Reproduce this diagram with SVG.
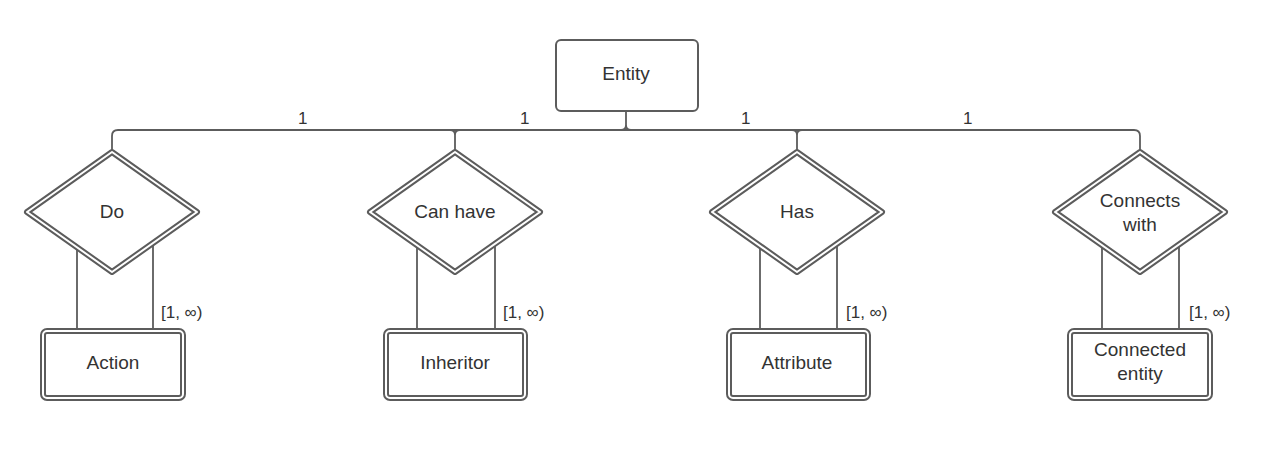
<svg xmlns="http://www.w3.org/2000/svg" width="1280" height="454" viewBox="0 0 1280 454">
<style>
.bg{fill:#ffffff}
.ln{fill:none;stroke:#5c5c5c;stroke-width:1.8}
.single{fill:#ffffff;stroke:#5c5c5c;stroke-width:2}
.dbl-o{fill:#ffffff;stroke:#5c5c5c;stroke-width:6;stroke-linejoin:round}
.dbl-i{fill:none;stroke:#ffffff;stroke-width:2;stroke-linejoin:round}
.t{font-family:"Liberation Sans",Arial,sans-serif;font-size:19px;fill:#333333;text-anchor:middle}
.c{font-family:"Liberation Sans",Arial,sans-serif;font-size:17px;fill:#333333}
</style>
<rect class="bg" x="0" y="0" width="1280" height="454"/>
<g id="connectors">
<path class="ln" d="M112,152 V136 Q112,130 118,130 H1134 Q1140,130 1140,136 V152"/>
<path class="ln" d="M626,112 V125 Q626,130 621,130 M626,125 Q626,130 631,130"/>
<path class="ln" d="M455,152 V135 Q455,130 450,130 M455,135 Q455,130 460,130"/>
<path class="ln" d="M797,152 V135 Q797,130 792,130 M797,135 Q797,130 802,130"/>
<path class="ln" d="M77,230 V328 M153,230 V328"/>
<path class="ln" d="M417,230 V328 M495,230 V328"/>
<path class="ln" d="M760,230 V328 M837,230 V328"/>
<path class="ln" d="M1102,230 V328 M1179,230 V328"/>
<text class="c" x="298" y="124">1</text>
<text class="c" x="520" y="124">1</text>
<text class="c" x="741" y="124">1</text>
<text class="c" x="963" y="124">1</text>
<text class="c" x="161" y="318">[1, ∞)</text>
<text class="c" x="503" y="318">[1, ∞)</text>
<text class="c" x="846" y="318">[1, ∞)</text>
<text class="c" x="1189" y="318">[1, ∞)</text>
</g>
<g id="entity">
<rect class="single" x="556" y="40" width="142" height="71" rx="5"/>
<text class="t" x="626" y="80">Entity</text>
</g>
<g id="do">
<path class="dbl-o" d="M112,152 L197,212 L112,272 L27,212 Z"/>
<path class="dbl-i" d="M112,152 L197,212 L112,272 L27,212 Z"/>
<text class="t" x="112" y="218">Do</text>
</g>
<g id="can-have">
<path class="dbl-o" d="M455,152 L540,212 L455,272 L370,212 Z"/>
<path class="dbl-i" d="M455,152 L540,212 L455,272 L370,212 Z"/>
<text class="t" x="455" y="218">Can have</text>
</g>
<g id="has">
<path class="dbl-o" d="M797,152 L882,212 L797,272 L712,212 Z"/>
<path class="dbl-i" d="M797,152 L882,212 L797,272 L712,212 Z"/>
<text class="t" x="797" y="218">Has</text>
</g>
<g id="connects-with">
<path class="dbl-o" d="M1140,152 L1225,212 L1140,272 L1055,212 Z"/>
<path class="dbl-i" d="M1140,152 L1225,212 L1140,272 L1055,212 Z"/>
<text class="t" x="1140" y="207">Connects</text>
<text class="t" x="1140" y="231">with</text>
</g>
<g id="action">
<rect class="dbl-o" x="43" y="331" width="140" height="67" rx="4"/>
<rect class="dbl-i" x="43" y="331" width="140" height="67" rx="4"/>
<text class="t" x="113" y="369">Action</text>
</g>
<g id="inheritor">
<rect class="dbl-o" x="386" y="331" width="139" height="67" rx="4"/>
<rect class="dbl-i" x="386" y="331" width="139" height="67" rx="4"/>
<text class="t" x="455" y="369">Inheritor</text>
</g>
<g id="attribute">
<rect class="dbl-o" x="729" y="331" width="139" height="67" rx="4"/>
<rect class="dbl-i" x="729" y="331" width="139" height="67" rx="4"/>
<text class="t" x="797" y="369">Attribute</text>
</g>
<g id="connected-entity">
<rect class="dbl-o" x="1070" y="331" width="140" height="67" rx="4"/>
<rect class="dbl-i" x="1070" y="331" width="140" height="67" rx="4"/>
<text class="t" x="1140" y="356">Connected</text>
<text class="t" x="1140" y="380">entity</text>
</g>
</svg>
